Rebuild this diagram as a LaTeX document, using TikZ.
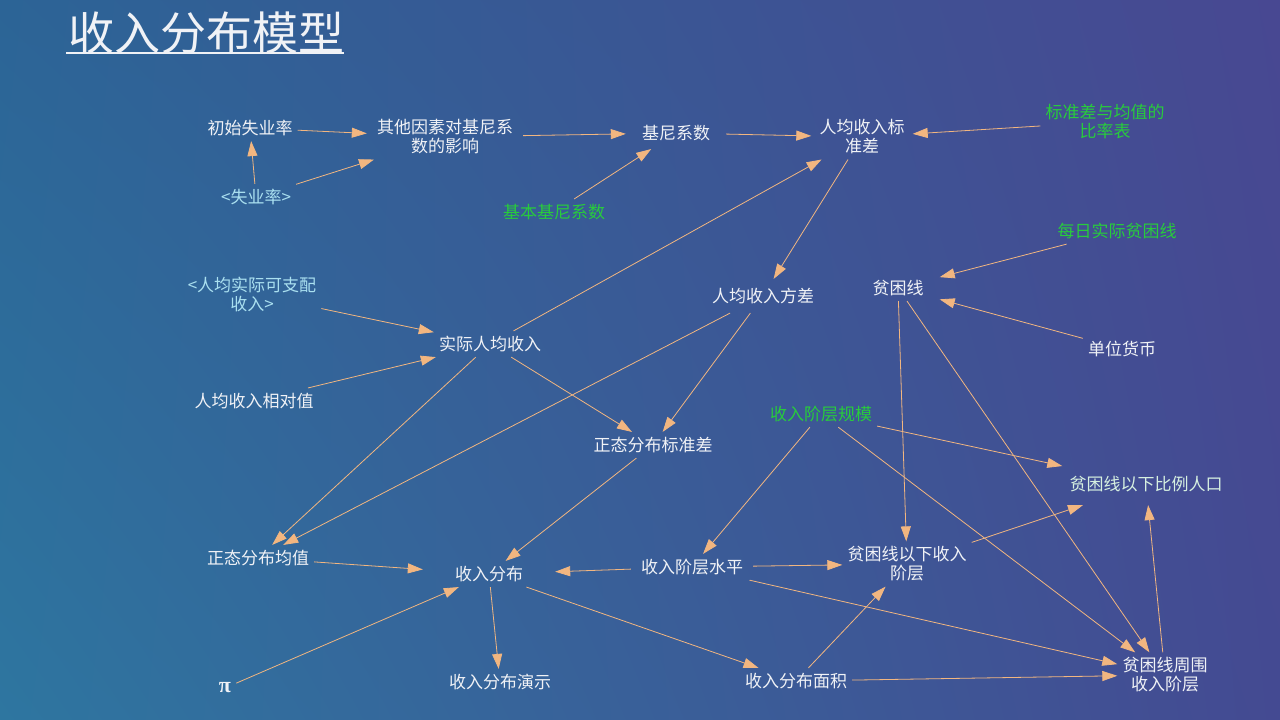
\documentclass[tikz,border=0pt]{standalone}
\usepackage{fontspec}
\newfontfamily\cjk{Noto Sans CJK SC}
\newfontfamily\pifont{Liberation Serif}
\usetikzlibrary{arrows.meta,shadings}
\definecolor{wtxt}{RGB}{240,242,246}
\definecolor{gtxt}{RGB}{40,204,60}
\definecolor{ctxt}{RGB}{170,224,240}
\definecolor{ptxt}{RGB}{214,240,224}
\definecolor{lnc}{RGB}{242,182,128}
\definecolor{bgll}{RGB}{46,118,160}
\definecolor{bgul}{RGB}{44,100,150}
\definecolor{bgur}{RGB}{72,72,146}
\definecolor{bglr}{RGB}{68,74,146}
\tikzset{
  lbl/.style={font=\cjk\fontsize{17}{19}\selectfont, text=wtxt, align=center, inner sep=5pt},
  grn/.style={lbl, text=gtxt},
  shd/.style={lbl, text=ctxt},
  arr/.style={draw=lnc, line width=0.8pt, -{Triangle[length=15pt,width=10pt,fill=lnc]}}
}
\begin{document}
\begin{tikzpicture}[x=1pt,y=-1pt]
\shade[lower left=bgll, upper left=bgul, upper right=bgur, lower right=bglr] (0,720) rectangle (1280,0);
\useasboundingbox (0,0) rectangle (1280,720);
% title
\node[font=\cjk\fontsize{46}{50}\selectfont, text=wtxt, inner sep=0pt] (title) at (206,33) {收入分布模型};
\draw[wtxt, line width=2.5pt] (66,53) -- (344,53);
% nodes
\node[lbl] (cssy) at (250,128) {初始失业率};
\node[lbl, inner xsep=10pt] (qtys) at (445,137) {其他因素对基尼系\\数的影响};
\node[lbl, inner xsep=16pt, inner ysep=8pt] (jnxs) at (676,133) {基尼系数};
\node[lbl, inner xsep=8pt] (rjbz) at (862,137) {人均收入标\\准差};
\node[grn] (bzbl) at (1105,122) {标准差与均值的\\比率表};
\node[shd] (sylv) at (256,197) {<失业率>};
\node[grn] (jbjn) at (554,212) {基本基尼系数};
\node[grn] (mrpk) at (1117,231) {每日实际贫困线};
\node[shd] (rjkz) at (252,294) {<人均实际可支配\\收入>};
\node[lbl, inner ysep=9pt] (rjfc) at (763,296) {人均收入方差};
\node[lbl, inner xsep=16pt] (pkx) at (898,288) {贫困线};
\node[lbl] (dwhb) at (1122,349) {单位货币};
\node[lbl] (sjrj) at (490,344) {实际人均收入};
\node[lbl] (rjxd) at (254,401) {人均收入相对值};
\node[grn] (jcgm) at (821,414) {收入阶层规模};
\node[lbl] (ztbz) at (653,445) {正态分布标准差};
\node[lbl, text=ptxt, inner xsep=7pt, inner ysep=13pt] (blrk) at (1146,484) {贫困线以下比例人口};
\node[lbl] (ztjz) at (258,558) {正态分布均值};
\node[lbl, inner xsep=32pt] (srfb) at (489,574) {收入分布};
\node[lbl, inner xsep=10pt] (jcsp) at (692,567) {收入阶层水平};
\node[lbl] (yxjc) at (907,564) {贫困线以下收入\\阶层};
\node[font=\pifont\bfseries\fontsize{22}{24}\selectfont, text=wtxt, inner sep=5pt] (pi) at (225,688) {π};
\node[lbl] (fbys) at (500,682) {收入分布演示};
\node[lbl] (fbmj) at (796,681) {收入分布面积};
\node[lbl] (zwjc) at (1165,675) {贫困线周围\\收入阶层};
% connectors
\draw[arr] (cssy) -- (qtys);
\draw[arr] (sylv) -- (cssy);
\draw[arr] (sylv) -- (qtys);
\draw[arr] (qtys) -- (jnxs);
\draw[arr] (jbjn) -- (jnxs);
\draw[arr] (jnxs) -- (rjbz);
\draw[arr] (bzbl) -- (rjbz);
\draw[arr] (sjrj) -- (rjbz);
\draw[arr] (rjbz) -- (rjfc);
\draw[arr] (mrpk) -- (pkx);
\draw[arr] (dwhb) -- (pkx);
\draw[arr] (rjkz) -- (sjrj);
\draw[arr] (rjxd) -- (sjrj);
\draw[arr] (sjrj) -- (ztbz);
\draw[arr] (rjfc) -- (ztbz);
\draw[arr] (rjfc) -- (ztjz);
\draw[arr] (sjrj) -- (ztjz);
\draw[arr] (ztbz) -- (srfb);
\draw[arr] (ztjz) -- (srfb);
\draw[arr] (jcsp) -- (srfb);
\draw[arr] (pi) -- (srfb);
\draw[arr] (srfb) -- (fbys);
\draw[arr] (srfb) -- (fbmj);
\draw[arr] (jcgm) -- (jcsp);
\draw[arr] (jcgm) -- (blrk);
\draw[arr] (jcgm) -- (zwjc);
\draw[arr] (pkx) -- (yxjc);
\draw[arr] (pkx) -- (zwjc);
\draw[arr] (jcsp) -- (yxjc);
\draw[arr] (jcsp) -- (zwjc);
\draw[arr] (fbmj) -- (yxjc);
\draw[arr] (fbmj) -- (zwjc);
\draw[arr] (yxjc) -- (blrk);
\draw[arr] (zwjc) -- (blrk);
\end{tikzpicture}
\end{document}
